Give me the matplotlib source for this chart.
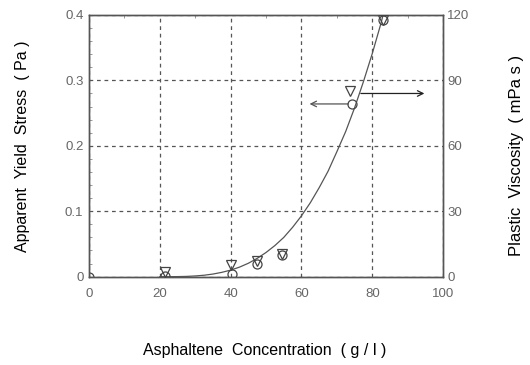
import matplotlib
matplotlib.use("Agg")
import matplotlib.pyplot as plt
from matplotlib.ticker import MultipleLocator

plt.rcParams['font.family'] = ['Liberation Sans', 'DejaVu Sans']

# apparent yield stress (Pa), left axis
conc_stress = [0, 21.5, 40.3, 47.4, 54.4, 74.2, 83]
stress = [0, 0.001, 0.004, 0.019, 0.033, 0.264, 0.392]

# plastic viscosity (mPa s), right axis
conc_visc = [21.5, 40, 47.4, 54.4, 73.7, 83]
visc = [2.3, 5.4, 7.0, 10.4, 85.3, 117.5]

# fitted curve
fit_x = [20, 22.5, 25, 27.5, 30, 32.5, 35, 37.5, 40, 42.5, 45, 47.5, 50,
         52.5, 55, 57.5, 60, 62.5, 65, 67.5, 70, 72.5, 75, 77.5, 80, 82.5, 83.5]
fit_y = [0, 0.00001, 0.0001, 0.0004, 0.0011, 0.0022, 0.004, 0.0066, 0.010,
         0.0146, 0.0205, 0.028, 0.037, 0.0476, 0.060, 0.0755, 0.093,
         0.113, 0.136, 0.161, 0.191, 0.222, 0.258, 0.298, 0.341, 0.388, 0.41]

xticks = [0, 20, 40, 60, 80, 100]
yticks_left = [0, 0.1, 0.2, 0.3, 0.4]
yticks_right = [0, 30, 60, 90, 120]

tick_col = '#666666'
fig = plt.figure(figsize=(5.3, 3.65), dpi=100)
ax = fig.add_axes([0.168, 0.242, 0.668, 0.717])
ax2 = ax.twinx()

ax.plot(fit_x, fit_y, color='#555555', lw=0.9, zorder=3)
ax.plot(conc_stress, stress, 'o', ms=6.5, mfc='none', mec='#444444', mew=0.9,
        zorder=4)
ax2.plot(conc_visc, visc, 'v', ms=7, mfc='none', mec='#444444', mew=0.9,
         zorder=4)

ax.set_xlim(0, 100)
ax.set_ylim(0, 0.4)
ax2.set_ylim(0, 120)
ax.set_xticks(xticks)
ax.set_yticks(yticks_left)
ax.set_yticklabels(['0', '0.1', '0.2', '0.3', '0.4'])
ax2.set_yticks(yticks_right)

ax.grid(True, ls=(0, (3, 3)), color='#555555', lw=0.9)
ax.tick_params(axis='y', length=0, labelsize=9.5, labelcolor=tick_col, pad=4)
ax.tick_params(axis='x', length=0, labelsize=9.5, labelcolor=tick_col, pad=8)
ax2.tick_params(axis='y', length=0, labelsize=9.5, labelcolor=tick_col, pad=3)
ax.yaxis.set_minor_locator(MultipleLocator(0.02))
ax.xaxis.set_minor_locator(MultipleLocator(10))
ax.tick_params(axis='y', which='minor', direction='in', length=2, color='#888888')
ax.tick_params(axis='x', which='minor', bottom=False, top=True,
               direction='in', length=2, color='#888888')

for a in (ax, ax2):
    for s in a.spines.values():
        s.set_color('#555555')
        s.set_linewidth(1.0)

# arrows showing which axis each series belongs to
ax.annotate('', xy=(61.5, 0.264), xytext=(74.0, 0.264),
            arrowprops=dict(arrowstyle='->', color='#555555', lw=0.9))
ax2.annotate('', xy=(95.5, 84.0), xytext=(76.0, 84.0),
             arrowprops=dict(arrowstyle='->', color='#222222', lw=0.9))

fig.text(0.042, 0.60, 'Apparent  Yield  Stress  ( Pa )', rotation=90,
         ha='center', va='center', fontsize=11.5)
fig.text(0.974, 0.575, 'Plastic  Viscosity  ( mPa s )', rotation=90,
         ha='center', va='center', fontsize=12)
fig.text(0.50, 0.04, 'Asphaltene  Concentration  ( g / l )',
         ha='center', va='center', fontsize=11.5)

fig.savefig('out.png', dpi=100)
